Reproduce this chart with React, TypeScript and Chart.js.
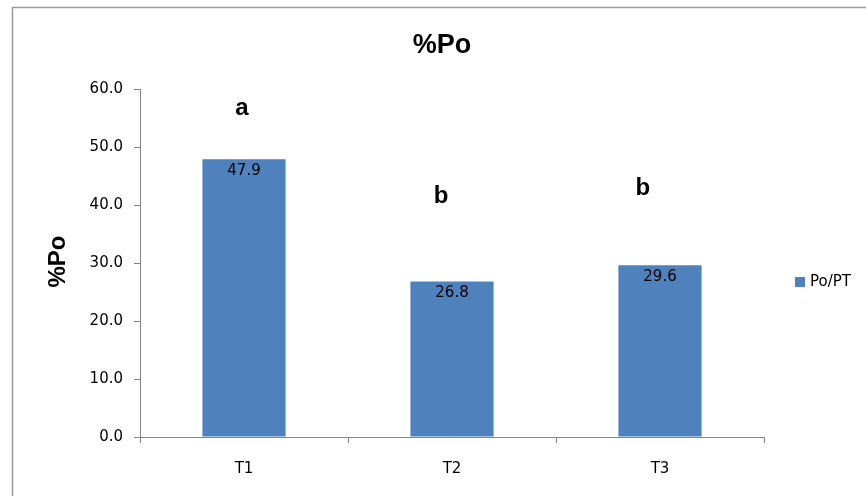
import React, { useEffect, useRef } from "react";
import { Chart, registerables } from "chart.js";

Chart.register(...registerables);

const categories = ["T1", "T2", "T3"];
const seriesName = "Po/PT";
const values = [47.9, 26.8, 29.6];
const letters = ["a", "b", "b"];
const letterLevels = [55.5, 40.3, 41.7];
const letterCategoryPos = [-0.01, 0.947, 1.918];
const chartTitle = "%Po";
const yAxisTitle = "%Po";
const yMin = 0;
const yMax = 60;
const yStep = 10;

const BLUE = "#4F81BD";
const AXIS = "#868686";
const TICK_FONT = "DejaVu Sans";
const BOLD_FONT = "Liberation Sans";

const extrasPlugin = {
  id: "extras",
  afterDraw(chart: any) {
    const ctx = chart.ctx;
    const xs = chart.scales.x;
    const ys = chart.scales.y;
    ctx.save();
    // frame
    ctx.strokeStyle = "#9a9a9a";
    ctx.lineWidth = 1.5;
    ctx.beginPath();
    ctx.moveTo(12.5, 496);
    ctx.lineTo(12.5, 7.5);
    ctx.lineTo(866, 7.5);
    ctx.stroke();

    // title
    ctx.fillStyle = "#000";
    ctx.font = `bold 27px "${BOLD_FONT}"`;
    ctx.textAlign = "center";
    ctx.textBaseline = "alphabetic";
    ctx.fillText(chartTitle, 442, 53);

    // y axis title
    ctx.save();
    ctx.translate(65, 261.5);
    ctx.rotate(-Math.PI / 2);
    ctx.font = `bold 24px "${BOLD_FONT}"`;
    ctx.textAlign = "center";
    ctx.textBaseline = "alphabetic";
    ctx.fillText(yAxisTitle, 0, 0);
    ctx.restore();

    // value labels and letters
    const meta = chart.getDatasetMeta(0);
    meta.data.forEach((bar: any, i: number) => {
      ctx.font = `15px "${TICK_FONT}"`;
      ctx.textAlign = "center";
      ctx.textBaseline = "middle";
      ctx.fillStyle = "#000";
      ctx.fillText(values[i].toFixed(1), bar.x, bar.y + 12);

      ctx.font = `bold 24px "${BOLD_FONT}"`;
      ctx.textBaseline = "alphabetic";
      ctx.fillText(letters[i], xs.getPixelForValue(letterCategoryPos[i]), ys.getPixelForValue(letterLevels[i]));
    });

    // legend
    ctx.fillStyle = BLUE;
    ctx.fillRect(795, 277, 10, 10);
    ctx.fillStyle = "#000";
    ctx.font = `15px "${TICK_FONT}"`;
    ctx.textAlign = "left";
    ctx.textBaseline = "middle";
    ctx.fillText(seriesName, 810, 282.5);
    ctx.restore();
  },
};

export default function App() {
  const ref = useRef<HTMLCanvasElement | null>(null);

  useEffect(() => {
    if (!ref.current) return;
    const chart = new Chart(ref.current, {
      type: "bar",
      data: {
        labels: categories,
        datasets: [
          {
            label: seriesName,
            data: values,
            backgroundColor: BLUE,
            borderWidth: 0,
            barPercentage: 0.4,
            categoryPercentage: 1,
          },
        ],
      },
      options: {
        responsive: false,
        animation: false,
        layout: { padding: { top: 89, right: 102, left: 0, bottom: 0 } },
        plugins: {
          legend: { display: false },
          title: { display: false },
          tooltip: { enabled: false },
        },
        scales: {
          x: {
            afterFit: (s: any) => {
              s.height = 59;
            },
            grid: {
              display: true,
              offset: true,
              drawOnChartArea: false,
              drawTicks: true,
              tickLength: 6,
              color: AXIS,
            },
            border: { display: true, color: AXIS, width: 1 },
            ticks: {
              color: "#000",
              font: { family: TICK_FONT, size: 15 },
              padding: 17,
            },
          },
          y: {
            min: yMin,
            max: yMax,
            afterFit: (s: any) => {
              s.width = 140;
            },
            grid: {
              display: true,
              drawOnChartArea: false,
              drawTicks: true,
              tickLength: 6,
              color: AXIS,
            },
            border: { display: true, color: AXIS, width: 1 },
            ticks: {
              stepSize: yStep,
              color: "#000",
              font: { family: TICK_FONT, size: 15 },
              padding: 11,
              callback: (v: any) => Number(v).toFixed(1),
            },
          },
        },
      },
      plugins: [extrasPlugin],
    });
    return () => chart.destroy();
  }, []);

  return (
    <div style={{ position: "absolute", left: 0, top: 0, width: 866, height: 496, background: "#fff" }}>
      <canvas ref={ref} width={866} height={496} style={{ display: "block" }} />
    </div>
  );
}
